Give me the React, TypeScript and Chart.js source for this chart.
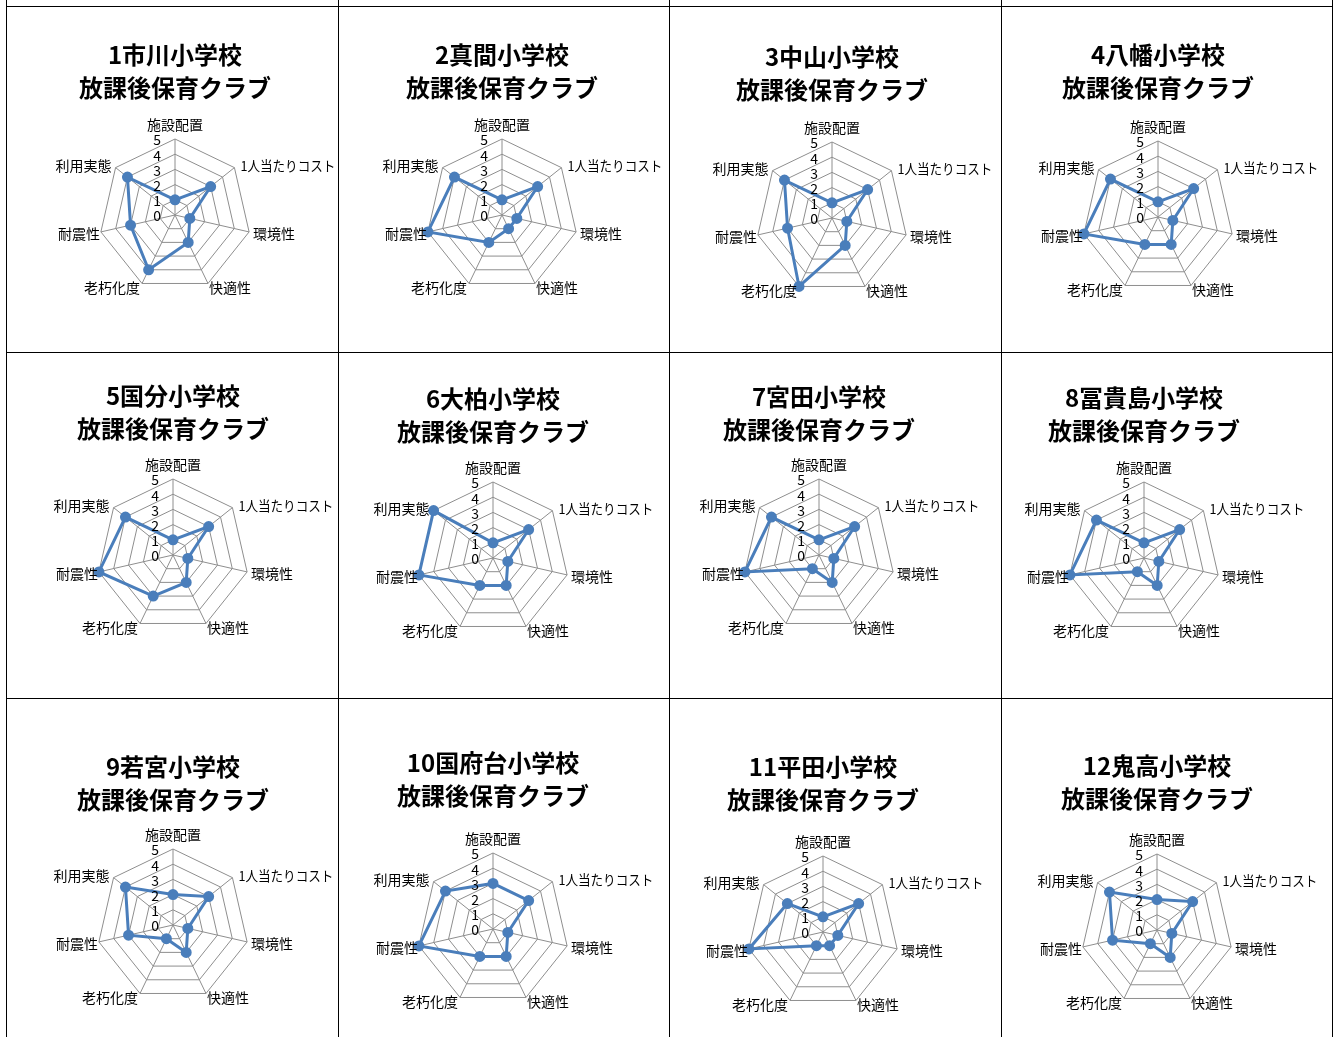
import React, { useEffect, useRef } from 'react';
import { Chart, registerables } from 'chart.js';

Chart.register(...registerables);

// ---- data ----
const axisLabels = ['施設配置', '1人当たりコスト', '環境性', '快適性', '老朽化度', '耐震性', '利用実態'];
const schoolNames = [
  '1市川小学校', '2真間小学校', '3中山小学校', '4八幡小学校',
  '5国分小学校', '6大柏小学校', '7宮田小学校', '8冨貴島小学校',
  '9若宮小学校', '10国府台小学校', '11平田小学校', '12鬼高小学校',
];
const clubLabel = '放課後保育クラブ';
const tickValues = [0, 1, 2, 3, 4, 5];

const scores1 = [1, 3, 1, 2, 4, 3, 4];
const scores2 = [1, 3, 1, 1, 2, 5, 4];
const scores3 = [1, 3, 1, 2, 5, 3, 4];
const scores4 = [1, 3, 1, 2, 2, 5, 4];
const scores5 = [1, 3, 1, 2, 3, 5, 4];
const scores6 = [1, 3, 1, 2, 2, 5, 5];
const scores7 = [1, 3, 1, 2, 1, 5, 4];
const scores8 = [1, 3, 1, 2, 1, 5, 4];
const scores9 = [2, 3, 1, 2, 1, 3, 4];
const scores10 = [3, 3, 1, 2, 2, 5, 4];
const scores11 = [1, 3, 1, 1, 1, 5, 3];
const scores12 = [2, 3, 1, 2, 1, 3, 4];
const allScores = [scores1, scores2, scores3, scores4, scores5, scores6, scores7, scores8, scores9, scores10, scores11, scores12];

// ---- layout (page positions of each panel) ----
const panelLayout = [
  { cx: 175, cy: 215, ty: 55 },
  { cx: 502, cy: 215, ty: 55 },
  { cx: 832, cy: 218, ty: 57 },
  { cx: 1158, cy: 217, ty: 55 },
  { cx: 173, cy: 555, ty: 396 },
  { cx: 493, cy: 558, ty: 399 },
  { cx: 819, cy: 555, ty: 397 },
  { cx: 1144, cy: 558, ty: 398 },
  { cx: 173, cy: 925, ty: 767 },
  { cx: 493, cy: 929, ty: 763 },
  { cx: 823, cy: 932, ty: 767 },
  { cx: 1157, cy: 930, ty: 766 },
];
const vLines = [6, 338, 669, 1001, 1332];
const hLines = [6, 352, 698];

const CW = 400;
const CH = 300;
const CENTER_Y = 208;
const RADIUS = 76;
const FONT = '"Noto Sans CJK JP", "Noto Sans", sans-serif';
const LINE_BLUE = '#4A7EBB';
const GRID_GRAY = '#8e8e8e';

// label offsets: [dx, dy, align, maxWidth]
const labelPlace: Array<[number, number, CanvasTextAlign, number]> = [
  [0, -14, 'center', 0],
  [6, -2, 'left', 95],
  [4, 2, 'left', 0],
  [1, 4, 'left', 0],
  [-2, 4, 'right', 0],
  [-1, 2, 'right', 0],
  [-4, -2, 'right', 0],
];

const labelPlugin = {
  id: 'customRadarLabels',
  afterDraw(chart: any) {
    const scale = chart.scales.r;
    const ctx = chart.ctx as CanvasRenderingContext2D;
    ctx.save();
    ctx.fillStyle = '#000';
    ctx.font = `14px ${FONT}`;
    ctx.textBaseline = 'middle';
    ctx.textAlign = 'right';
    tickValues.forEach((v) => {
      const d = scale.getDistanceFromCenterForValue(v);
      ctx.fillText(String(v), scale.xCenter - 14, scale.yCenter - d + 1);
    });
    const labels = chart.data.labels as string[];
    labels.forEach((lab, i) => {
      const p = scale.getPointPosition(i, scale.drawingArea);
      const [dx, dy, al, mw] = labelPlace[i];
      ctx.textAlign = al;
      if (mw > 0) ctx.fillText(lab, p.x + dx, p.y + dy, mw);
      else ctx.fillText(lab, p.x + dx, p.y + dy);
    });
    ctx.restore();
  },
};

function RadarPanel({ idx }: { idx: number }) {
  const ref = useRef<HTMLCanvasElement | null>(null);
  const lay = panelLayout[idx];
  const left = lay.cx - CW / 2;
  const top = lay.cy - CENTER_Y;
  useEffect(() => {
    if (!ref.current) return;
    const pt = lay.ty - top - 16.5;
    const pb = (CENTER_Y - RADIUS) - pt - 66;
    const chart = new Chart(ref.current, {
      type: 'radar',
      data: {
        labels: axisLabels,
        datasets: [
          {
            data: allScores[idx],
            borderColor: LINE_BLUE,
            backgroundColor: LINE_BLUE,
            pointBackgroundColor: LINE_BLUE,
            pointBorderColor: LINE_BLUE,
            pointRadius: 4,
            borderWidth: 3,
            fill: false,
          },
        ],
      },
      options: {
        responsive: false,
        animation: false,
        layout: { padding: { top: 0, left: 0, right: 0, bottom: CH - (CENTER_Y + RADIUS) } },
        plugins: {
          legend: { display: false },
          tooltip: { enabled: false },
          title: {
            display: true,
            text: [schoolNames[idx], clubLabel],
            color: '#000',
            font: { family: FONT, size: 24, weight: 'bold', lineHeight: 1.375 },
            padding: { top: pt, bottom: pb },
          },
        },
        scales: {
          r: {
            min: 0,
            max: 5,
            ticks: { stepSize: 1, display: false },
            pointLabels: { display: false },
            grid: { color: GRID_GRAY, lineWidth: 1 },
            angleLines: { color: GRID_GRAY, lineWidth: 1 },
          },
        },
      },
      plugins: [labelPlugin],
    } as any);
    return () => chart.destroy();
  }, [idx]);
  return (
    <canvas
      ref={ref}
      width={CW}
      height={CH}
      style={{ position: 'absolute', left, top, width: CW, height: CH }}
    />
  );
}

export default function App() {
  return (
    <div
      style={{
        position: 'absolute',
        left: 0,
        top: 0,
        width: 1333,
        height: 1037,
        overflow: 'hidden',
        background: '#fff',
      }}
    >
      {allScores.map((_, i) => (
        <RadarPanel key={i} idx={i} />
      ))}
      {vLines.map((x) => (
        <div key={'v' + x} style={{ position: 'absolute', left: x, top: 0, width: 1, height: 1037, background: '#000' }} />
      ))}
      {hLines.map((y) => (
        <div key={'h' + y} style={{ position: 'absolute', left: vLines[0], top: y, width: vLines[vLines.length - 1] - vLines[0] + 1, height: 1, background: '#000' }} />
      ))}
    </div>
  );
}
